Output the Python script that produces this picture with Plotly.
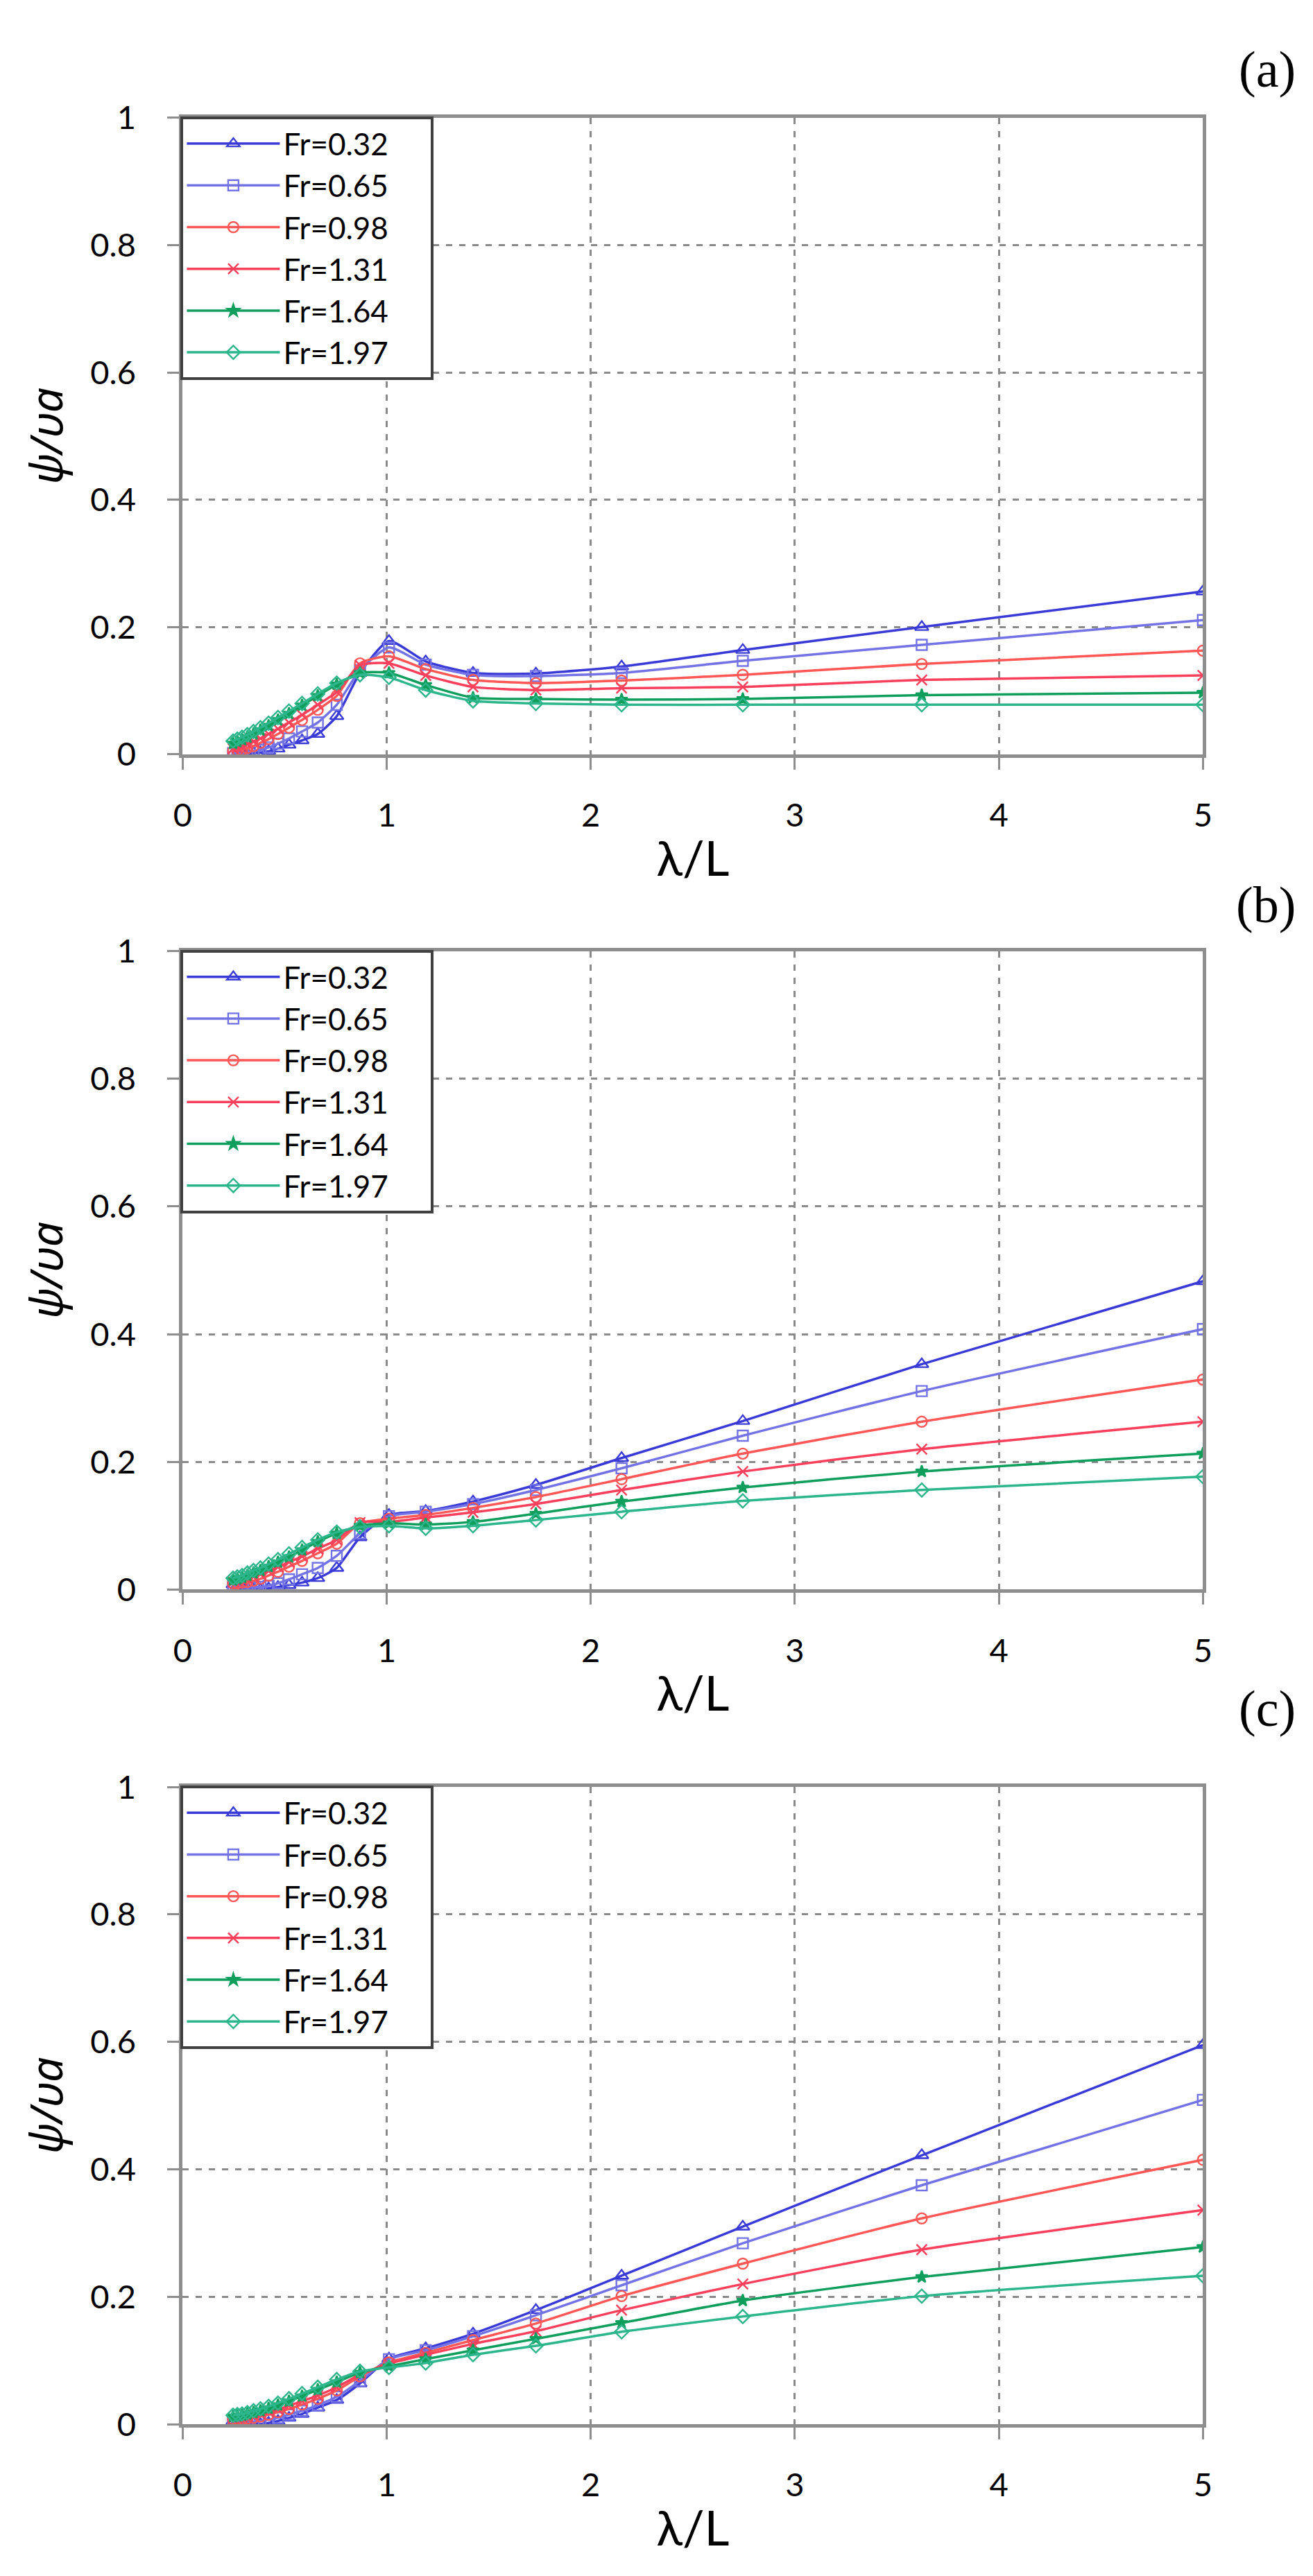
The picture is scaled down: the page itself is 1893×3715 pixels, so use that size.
import plotly.graph_objects as go

# ---------------- data ----------------
lam = [0.247, 0.268, 0.291, 0.317, 0.347, 0.381, 0.421, 0.467, 0.521, 0.585, 0.662,
       0.755, 0.869, 1.011, 1.191, 1.423, 1.731, 2.151, 2.745, 3.622, 5.0]

series_names = ["Fr=0.32", "Fr=0.65", "Fr=0.98", "Fr=1.31", "Fr=1.64", "Fr=1.97"]

# panel (a)
a_032 = [0.001, 0.001, 0.001, 0.001, 0.002, 0.003, 0.005, 0.009, 0.015, 0.022, 0.032,
         0.060, 0.128, 0.178, 0.146, 0.128, 0.127, 0.138, 0.164, 0.200, 0.256]
a_065 = [0.002, 0.002, 0.002, 0.003, 0.005, 0.007, 0.011, 0.017, 0.025, 0.036, 0.050,
         0.078, 0.132, 0.168, 0.141, 0.125, 0.123, 0.128, 0.147, 0.172, 0.211]
a_098 = [0.005, 0.006, 0.007, 0.010, 0.013, 0.018, 0.024, 0.032, 0.042, 0.054, 0.070,
         0.092, 0.143, 0.154, 0.134, 0.117, 0.112, 0.116, 0.125, 0.142, 0.163]
a_131 = [0.009, 0.010, 0.012, 0.016, 0.020, 0.025, 0.032, 0.040, 0.050, 0.062, 0.078,
         0.098, 0.140, 0.143, 0.124, 0.106, 0.101, 0.104, 0.106, 0.117, 0.124]
a_164 = [0.017, 0.020, 0.023, 0.027, 0.032, 0.038, 0.045, 0.054, 0.064, 0.077, 0.092,
         0.110, 0.128, 0.128, 0.109, 0.089, 0.087, 0.086, 0.087, 0.093, 0.097]
a_197 = [0.021, 0.024, 0.027, 0.031, 0.036, 0.042, 0.049, 0.058, 0.068, 0.080, 0.095,
         0.112, 0.125, 0.121, 0.101, 0.084, 0.080, 0.078, 0.078, 0.078, 0.078]

# panel (b)
b_032 = [0.008, 0.006, 0.004, 0.002, 0.001, 0.000, 0.002, 0.004, 0.007, 0.011, 0.018,
         0.034, 0.082, 0.117, 0.123, 0.138, 0.164, 0.206, 0.264, 0.353, 0.483]
b_065 = [0.008, 0.006, 0.004, 0.003, 0.003, 0.004, 0.006, 0.010, 0.016, 0.024, 0.034,
         0.053, 0.088, 0.115, 0.122, 0.134, 0.156, 0.190, 0.241, 0.311, 0.408]
b_098 = [0.010, 0.010, 0.011, 0.012, 0.014, 0.017, 0.022, 0.028, 0.036, 0.045, 0.057,
         0.072, 0.104, 0.111, 0.117, 0.128, 0.145, 0.173, 0.213, 0.263, 0.329]
b_131 = [0.012, 0.013, 0.015, 0.017, 0.020, 0.024, 0.029, 0.035, 0.043, 0.052, 0.064,
         0.078, 0.105, 0.106, 0.113, 0.121, 0.134, 0.156, 0.185, 0.220, 0.263]
b_164 = [0.015, 0.017, 0.019, 0.022, 0.026, 0.030, 0.036, 0.043, 0.051, 0.062, 0.075,
         0.088, 0.100, 0.104, 0.102, 0.106, 0.119, 0.138, 0.160, 0.185, 0.213]
b_197 = [0.018, 0.020, 0.022, 0.026, 0.030, 0.034, 0.040, 0.047, 0.056, 0.066, 0.078,
         0.090, 0.098, 0.100, 0.096, 0.100, 0.109, 0.122, 0.139, 0.156, 0.177]

# panel (c)
c_032 = [0.005, 0.004, 0.003, 0.002, 0.001, 0.000, 0.002, 0.005, 0.010, 0.016, 0.026,
         0.038, 0.064, 0.103, 0.119, 0.142, 0.179, 0.233, 0.310, 0.422, 0.595]
c_065 = [0.006, 0.005, 0.004, 0.004, 0.004, 0.005, 0.007, 0.010, 0.015, 0.021, 0.030,
         0.043, 0.068, 0.102, 0.116, 0.138, 0.171, 0.218, 0.284, 0.375, 0.509]
c_098 = [0.008, 0.008, 0.008, 0.009, 0.010, 0.012, 0.015, 0.019, 0.024, 0.031, 0.040,
         0.053, 0.075, 0.097, 0.112, 0.132, 0.158, 0.201, 0.252, 0.323, 0.415]
c_131 = [0.009, 0.010, 0.011, 0.012, 0.014, 0.016, 0.019, 0.023, 0.029, 0.036, 0.045,
         0.058, 0.078, 0.095, 0.109, 0.126, 0.146, 0.179, 0.220, 0.274, 0.336]
c_164 = [0.012, 0.013, 0.014, 0.016, 0.018, 0.021, 0.025, 0.030, 0.036, 0.044, 0.054,
         0.066, 0.081, 0.091, 0.102, 0.116, 0.134, 0.159, 0.194, 0.231, 0.278]
c_197 = [0.014, 0.015, 0.016, 0.018, 0.021, 0.024, 0.028, 0.033, 0.040, 0.048, 0.058,
         0.070, 0.083, 0.089, 0.096, 0.109, 0.123, 0.145, 0.169, 0.201, 0.233]

x_ticks = [0, 1, 2, 3, 4, 5]
y_ticks = [0, 0.2, 0.4, 0.6, 0.8, 1]
y_ticklabels = ["0", "0.2", "0.4", "0.6", "0.8", "1"]
panel_labels = ["(a)", "(b)", "(c)"]

# ---------------- styles ----------------
W, H = 1893, 3715
colors = ["#3a3ad6", "#7373e6", "#ff5656", "#f8405c", "#0f9e5c", "#2db58c"]
symbols = ["triangle-up-open", "square-open", "circle-open", "x-thin-open", "star", "diamond-open"]
msizes = [17, 15, 15, 15, 13, 15]
PAD = "\u00a0" * 5  # keeps the legend box as wide as the original

panels = [
    [a_032, a_065, a_098, a_131, a_164, a_197],
    [b_032, b_065, b_098, b_131, b_164, b_197],
    [c_032, c_065, c_098, c_131, c_164, c_197],
]
# plot area pixel positions (top, bottom) for the three panels
px_left, px_right = 245, 1738
px_rows = [(134, 1066), (1354, 2289), (2578, 3511)]
label_y = [63, 1286, 2463]

fig = go.Figure()
SANS = "Lato, Noto Sans, sans-serif"
TICKFONT = dict(family=SANS, size=47, color="black")

for p, series in enumerate(panels):
    sfx = "" if p == 0 else str(p + 1)
    leg = "legend" + sfx
    for i, ys in enumerate(series):
        fig.add_trace(go.Scatter(
            x=lam, y=ys, name=series_names[i] + PAD, mode="lines+markers",
            xaxis="x" + sfx, yaxis="y" + sfx, legend=leg,
            line=dict(color=colors[i], width=3.5, shape="spline", smoothing=0.6),
            marker=dict(symbol=symbols[i], size=msizes[i], color=colors[i],
                        line=dict(width=2.4, color=colors[i])),
        ))
    top, bot = px_rows[p]
    ydom = [1 - bot / H, 1 - top / H]
    axis_common = dict(
        showline=True, linecolor="#8e8e8e", linewidth=5, mirror=True,
        ticks="outside", ticklen=17, tickwidth=3, tickcolor="#8e8e8e",
        showgrid=True, gridcolor="#8a8a8a", gridwidth=2.5, griddash="9px,10px",
        zeroline=False, tickfont=TICKFONT,
    )
    fig.update_layout(**{
        "xaxis" + sfx: dict(
            domain=[px_left / W, px_right / W], range=[0, 5], anchor="y" + sfx,
            tickvals=x_ticks, ticktext=[str(v) for v in x_ticks],
            ticklabelstandoff=26,
            title=dict(text="λ/L", font=dict(family=SANS, size=70, color="black"),
                       standoff=14),
            **axis_common),
        "yaxis" + sfx: dict(
            domain=ydom, range=[0, 1], anchor="x" + sfx,
            tickvals=y_ticks, ticktext=y_ticklabels,
            ticklabelstandoff=36,
            title=dict(text="<i>ψ/υa</i>", font=dict(family="Noto Sans, DejaVu Sans, sans-serif", size=64, color="black"),
                       standoff=20),
            **axis_common),
        leg: dict(
            x=242 / W, y=1 - (top - 2) / H, xanchor="left", yanchor="top",
            bgcolor="white", bordercolor="#404040", borderwidth=4,
            font=dict(family=SANS, size=44, color="black"),
            itemwidth=134, tracegroupgap=0,
        ),
    })
    fig.add_annotation(
        text=panel_labels[p], xref="paper", yref="paper",
        x=1876 / W, y=1 - label_y[p] / H, xanchor="right", yanchor="middle",
        showarrow=False,
        font=dict(family="Liberation Serif, Times New Roman, serif", size=74, color="black"),
    )

fig.update_layout(
    width=W, height=H, margin=dict(l=0, r=0, t=0, b=0),
    paper_bgcolor="white", plot_bgcolor="white", showlegend=True,
)

fig.write_html("out.html")
